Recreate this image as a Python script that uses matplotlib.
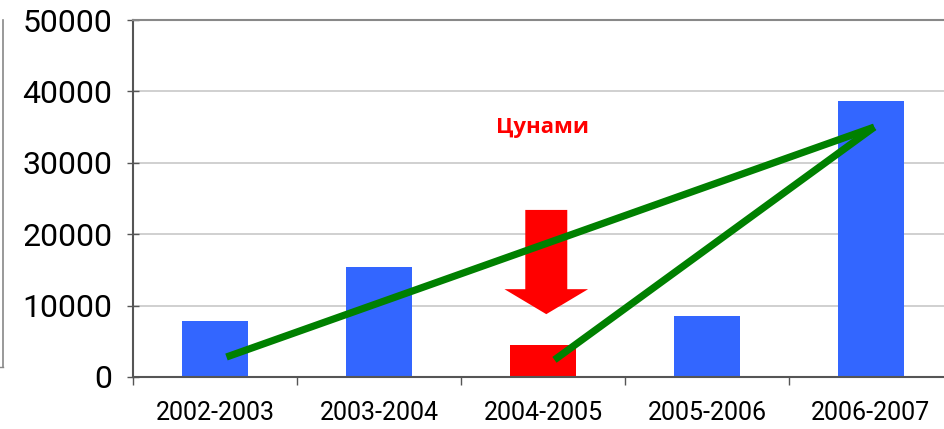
import matplotlib
matplotlib.use("Agg")
import matplotlib.pyplot as plt
from matplotlib.patches import FancyArrow
from matplotlib.lines import Line2D

categories = ["2002-2003", "2003-2004", "2004-2005", "2005-2006", "2006-2007"]
values = [7900, 15400, 4500, 8550, 38650]
bar_colors = ["#3366FF", "#3366FF", "#FF0000", "#3366FF", "#3366FF"]
yticks = [0, 10000, 20000, 30000, 40000, 50000]

# green trend lines (x in category units, y in values)
line1_x = [0.07, 4.02]
line1_y = [2800, 35000]
line2_x = [2.07, 4.02]
line2_y = [2400, 35000]

plt.rcParams['font.family'] = ['Roboto', 'DejaVu Sans']

fig = plt.figure(figsize=(9.45, 4.29), dpi=100)
ax = fig.add_axes([133/945, 52/429, 820/945, 357/429])

x = list(range(len(categories)))
ax.bar(x, values, width=0.40, color=bar_colors, zorder=2)

ax.plot(line1_x, line1_y, color="#008000", lw=5.2, solid_capstyle='butt', zorder=3)
ax.plot(line2_x, line2_y, color="#008000", lw=5.2, solid_capstyle='butt', zorder=3)

arrow = FancyArrow(2.02, 23400, 0, -14600, width=0.256, head_width=0.51,
                   head_length=3500, length_includes_head=True,
                   color="#FF0000", lw=0, zorder=2)
ax.add_patch(arrow)

ax.text(2.0, 35000, "Цунами", color="#FF0000", fontsize=16, fontweight='bold',
        family=['Open Sans', 'DejaVu Sans'],
        ha='center', va='center', zorder=4)

ax.set_xlim(-0.5, 4.5)
ax.set_ylim(0, 50000)
ax.set_yticks(yticks)
ax.set_yticklabels([str(v) for v in yticks], fontsize=23)
ax.yaxis.grid(True, color="#C8C8C8", lw=1.2, zorder=0)
ax.set_axisbelow(True)

ax.set_xticks(x)
ax.set_xticklabels(categories, fontsize=18)
ax.set_xticks([i - 0.5 for i in range(len(categories) + 1)], minor=True)
ax.tick_params(axis='x', which='major', length=0, pad=17)
ax.tick_params(axis='x', which='minor', length=6, width=1, color="#555555", direction='out')
ax.tick_params(axis='y', length=8, width=1, color="#555555", direction='inout', pad=11)

for s in ['left', 'bottom']:
    ax.spines[s].set_color("#555555")
    ax.spines[s].set_linewidth(1.5)
ax.spines['right'].set_visible(False)
ax.spines['top'].set_color("#888888")
ax.spines['top'].set_linewidth(1.5)

# remnant frame line at the far left
fig.add_artist(Line2D([3.5/945, 3.5/945], [1 - 20/429, 1 - 367/429],
                      color="#888888", lw=1.2))
fig.add_artist(Line2D([0, 3.5/945], [1 - 367/429, 1 - 367/429],
                      color="#888888", lw=1.0))

fig.savefig("out.png", dpi=100)
